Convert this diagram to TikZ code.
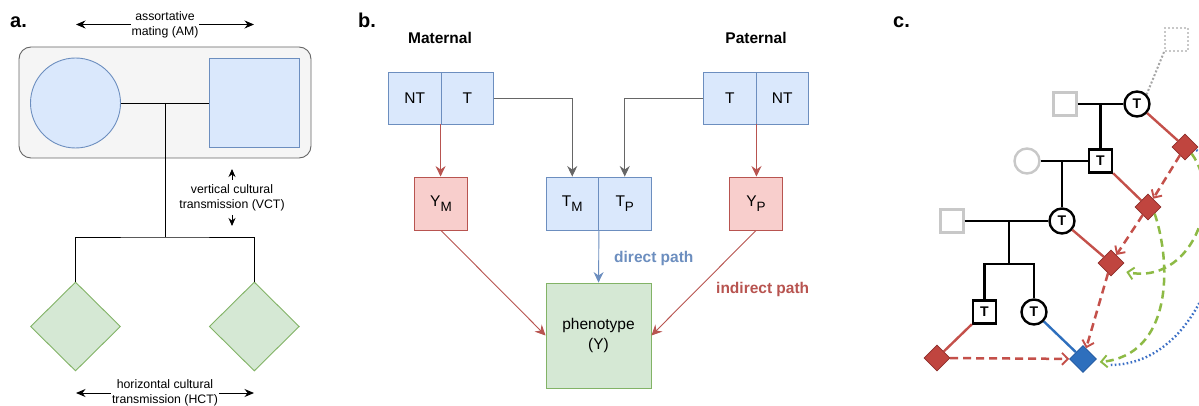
\documentclass[tikz,border=0pt]{standalone}
\usepackage{fontspec}
\setmainfont{Liberation Sans}
\usetikzlibrary{arrows.meta,shapes.geometric,calc}

\definecolor{bluefill}{HTML}{DAE8FC}
\definecolor{bluedraw}{HTML}{6C8EBF}
\definecolor{redfill}{HTML}{F8CECC}
\definecolor{reddraw}{HTML}{B85450}
\definecolor{greenfill}{HTML}{D5E8D4}
\definecolor{greendraw}{HTML}{82B366}
\definecolor{groupfill}{HTML}{F5F5F5}
\definecolor{groupdraw}{HTML}{666666}
\definecolor{flowgray}{HTML}{666666}
\definecolor{pedgray}{HTML}{C8C8C8}
\definecolor{pedred}{HTML}{C0453F}
\definecolor{pedreddark}{HTML}{8E2E2A}
\definecolor{pedlink}{HTML}{C4504A}
\definecolor{pedblue}{HTML}{2E6FBD}
\definecolor{pedbluedark}{HTML}{1F569E}
\definecolor{pedgreen}{HTML}{8DBA45}
\definecolor{peddot}{HTML}{3B6FC6}

% lowered subscript in draw.io style
\newcommand{\lowsub}[1]{\raisebox{-0.32em}{\fontsize{13.5}{13.5}\selectfont #1}}

\begin{document}
\begin{tikzpicture}[x=1pt,y=-1pt,
  panellabel/.style={anchor=base west, inner sep=0, font=\fontsize{20}{20}\selectfont\bfseries},
  smalltext/.style={align=center, inner sep=1pt, font=\fontsize{12.3}{15}\selectfont},
  bodytext/.style={font=\fontsize{15.5}{20}\selectfont},
  pairline/.style={draw=black, line width=0.9},
  tworow/.style={{Stealth[length=9.5pt,width=8pt]}-{Stealth[length=9.5pt,width=8pt]}, line width=0.9},
  onearrow/.style={-{Stealth[length=8pt,width=7pt]}, line width=0.9},
  bluecell/.style={draw=bluedraw, fill=bluefill, line width=0.9, minimum width=52.5, minimum height=52, inner sep=0, bodytext},
  redcell/.style={draw=reddraw, fill=redfill, line width=0.9, minimum width=53, minimum height=53, inner sep=0, bodytext},
  flow/.style={line width=0.9, -{Stealth[length=10.5pt,width=10pt,inset=3.5pt]}},
  pedsq/.style={draw=black, fill=white, line width=2.4, minimum size=23, inner sep=0, font=\fontsize{14}{14}\selectfont\bfseries},
  pedci/.style={circle, draw=black, fill=white, line width=2.4, minimum size=25, inner sep=0, font=\fontsize{14}{14}\selectfont\bfseries},
  ghostsq/.style={draw=pedgray, line width=2.4, minimum size=23, inner sep=0},
  ghostci/.style={circle, draw=pedgray, line width=2.4, minimum size=25, inner sep=0},
  reddia/.style={diamond, fill=pedred, draw=pedreddark, line width=0.6, minimum size=26, inner sep=0},
  bluedia/.style={diamond, fill=pedblue, draw=pedbluedark, line width=0.6, minimum size=27, inner sep=0},
  pedline/.style={draw=black, line width=2.4},
  heredash/.style={draw=pedlink, line width=2.5, dash pattern=on 8pt off 5pt, -{Straight Barb[length=6pt,width=12pt,line width=1.9pt]}},
  greendash/.style={draw=pedgreen, line width=2.5, dash pattern=on 8pt off 5pt, -{Straight Barb[length=6pt,width=12pt,line width=1.9pt]}},
  bluedot/.style={draw=peddot, line width=2.4, dash pattern=on 1.6pt off 2.4pt}
]
\useasboundingbox (0,0) rectangle (1199,406);
\fill[white] (0,0) rectangle (1199,406);

% ---------------- a. family unit ----------------
\node[panellabel] (la) at (10,28) {a.};

\coordinate (amL) at (76,24.5);
\coordinate (amR) at (254,24.5);
\draw[tworow] (amL) -- (amR);
\node[smalltext, fill=white] (am) at (165,25) {assortative\\mating (AM)};

\draw[draw=groupdraw, fill=groupfill, line width=0.9, rounded corners=12] (19,47) rectangle (311,158);
\node[circle, draw=bluedraw, fill=bluefill, line width=0.9, minimum size=90, inner sep=0] (mother) at (75.5,103) {};
\node[draw=bluedraw, fill=bluefill, line width=0.9, minimum size=89.5, inner sep=0] (father) at (254.3,103) {};
\draw[pairline] (mother.east) -- (father.west);

\node[diamond, draw=greendraw, fill=greenfill, line width=0.9, minimum width=90, minimum height=89, inner sep=0] (kidL) at (75.5,326.5) {};
\node[diamond, draw=greendraw, fill=greenfill, line width=0.9, minimum width=90, minimum height=89, inner sep=0] (kidR) at (254.3,326.5) {};

\coordinate (mate) at (165,103);
\coordinate (sib) at (165,237);
\draw[pairline] (mate) -- (sib);
\draw[pairline] (kidL.north) |- (sib) -| (kidR.north);

\node[smalltext] (vct) at (232,197.5) {vertical cultural\\transmission (VCT)};
\coordinate (vctupA) at (232,180);
\coordinate (vctupB) at (232,169);
\coordinate (vctdnA) at (232,215);
\coordinate (vctdnB) at (232,226);
\draw[onearrow] (vctupA) -- (vctupB);
\draw[onearrow] (vctdnA) -- (vctdnB);

\coordinate (hcL) at (76,393);
\coordinate (hcR) at (254,393);
\draw[tworow] (hcL) -- (hcR);
\node[smalltext, fill=white] (hct) at (165,392.5) {horizontal cultural\\transmission (HCT)};

% ---------------- b. transmission paths ----------------
\node[panellabel] (lb) at (358,28) {b.};
\node[anchor=base, inner sep=0, font=\fontsize{15.5}{20}\selectfont\bfseries] (mat) at (440,44) {Maternal};
\node[anchor=base, inner sep=0, font=\fontsize{15.5}{20}\selectfont\bfseries] (pat) at (756,44) {Paternal};

\node[bluecell] (mNT) at (414.75,98) {NT};
\node[bluecell] (mT)  at (467.25,98) {T};
\node[bluecell] (pT)  at (729.75,98) {T};
\node[bluecell] (pNT) at (782.25,98) {NT};

\node[redcell] (YM) at (441,203.5) {Y\lowsub{M}};
\node[bluecell, minimum height=53] (TM) at (572.25,203.5) {T\lowsub{M}};
\node[bluecell, minimum height=53] (TP) at (624.75,203.5) {T\lowsub{P}};
\node[redcell] (YP) at (756,203.5) {Y\lowsub{P}};

\node[draw=greendraw, fill=greenfill, line width=0.9, minimum size=105, inner sep=0, align=center, bodytext] (pheno) at (598.5,335.5) {phenotype\\(Y)};

\draw[flow, draw=reddraw] (mT.south west) -- (mT.south west |- YM.north);
\draw[flow, draw=flowgray] (mT.east) -| (TM.north);
\draw[flow, draw=flowgray] (pT.west) -| (TP.north);
\draw[flow, draw=reddraw] (pT.south east) -- (pT.south east |- YP.north);
\draw[flow, draw=bluedraw] (TM.south east) -- (pheno.north);
\draw[flow, draw=reddraw] (YM.south) -- (pheno.west);
\draw[flow, draw=reddraw] (YP.south) -- (pheno.east);

\node[anchor=base west, inner sep=0, text=bluedraw, font=\fontsize{15.5}{20}\selectfont\bfseries] (direct) at (614,262) {direct path};
\node[anchor=base west, inner sep=0, text=reddraw, font=\fontsize{15.5}{20}\selectfont\bfseries] (indirect) at (716,293) {indirect path};

% ---------------- c. pedigree ----------------
\node[panellabel] (lc) at (893,28) {c.};

\begin{scope}
\clip (880,0) rectangle (1199,406);

% ancestors and partners
\node[draw=pedgray, line width=2, dash pattern=on 2pt off 2pt, minimum size=23, inner sep=0] (ghosttop) at (1176.5,39.5) {};
\node[ghostsq] (g1) at (1065,104) {};
\node[pedci] (c1) at (1137,104) {T};
\node[pedsq] (s2) at (1100.5,161) {T};
\node[ghostci] (g2) at (1027,161) {};
\node[pedci] (c3) at (1062,221) {T};
\node[ghostsq] (g3) at (952,221) {};
\node[pedsq] (s4) at (984.5,312) {T};
\node[pedci] (c4) at (1034,312) {T};

% mating and descent lines
\draw[pedline] (g1.east) -- (c1.west);
\coordinate (m1) at (1100.5,104);
\draw[pedline] (m1) -- (s2.north);
\draw[pedline] (g2.east) -- (s2.west);
\coordinate (m2) at (1062,161);
\draw[pedline] (m2) -- (c3.north);
\draw[pedline] (g3.east) -- (c3.west);
\coordinate (m3) at (1009,221);
\coordinate (m3b) at (1009,264);
\draw[pedline] (m3) -- (m3b);
\draw[pedline] (s4.north) |- (m3b) -| (c4.north);
\draw[draw=gray!70, line width=2, dash pattern=on 2pt off 2pt] (ghosttop.south west) -- (c1.north east);

% phenotype markers
\node[reddia] (d1) at (1185,147) {};
\node[reddia] (d2) at (1148,207) {};
\node[reddia] (d3) at (1111,263) {};
\node[reddia] (d0) at (937,358) {};
\node[bluedia] (bd) at (1083,359) {};

\draw[draw=pedlink, line width=2.4] (c1) -- (d1);
\draw[draw=pedlink, line width=2.4] (s2) -- (d2);
\draw[draw=pedlink, line width=2.4] (c3) -- (d3);
\draw[draw=pedlink, line width=2.4] (s4) -- (d0);
\draw[draw=pedblue, line width=2.4] (c4) -- (bd);

% influence between relatives
\draw[bluedot] ($(d1.east)+(-2,3)$) .. controls (1250,185) and (1215,365) .. ($(bd.east)+(13,6)$);
\draw[greendash] (d2.south east) .. controls (1172,265) and (1172,355) .. ($(bd.east)+(3,3)$);
\draw[greendash] (d1.south east) .. controls (1225,200) and (1190,285) .. ($(d3.east)+(2,9)$);
\draw[heredash] (d1) -- (d2);
\draw[heredash] (d2) -- (d3);
\draw[heredash] (d3) -- (bd);
\draw[heredash] (d0) -- (bd);
\end{scope}
\end{tikzpicture}
\end{document}
